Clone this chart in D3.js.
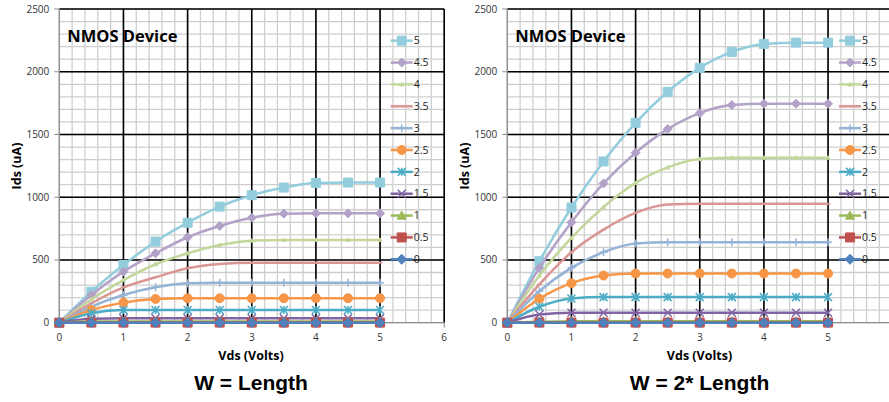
<!DOCTYPE html>
<html>
<head>
<meta charset="utf-8">
<script src="https://cdn.jsdelivr.net/npm/d3@7"></script>
<style>
  body { margin: 0; background: #fff; }
  svg { display: block; }
</style>
</head>
<body>
<div id="chart"></div>
<script>
// drain-source voltage points and gate-voltage series (legend order, top first)
const vds = [0, 0.5, 1, 1.5, 2, 2.5, 3, 3.5, 4, 4.5, 5];
const vgs = ['5', '4.5', '4', '3.5', '3', '2.5', '2', '1.5', '1', '0.5', '0'];
const xTicks = [0, 1, 2, 3, 4, 5, 6];
const yTicks = [0, 500, 1000, 1500, 2000, 2500];

// Ids (uA), W = Length
const idsSingle = [
  [0, 247, 460, 646, 797, 925, 1016, 1077, 1114, 1117, 1117],
  [0, 221, 407, 553, 681, 771, 837, 869, 872, 872, 872],
  [0, 187, 340, 466, 553, 620, 654, 660, 660, 660, 660],
  [0, 155, 282, 362, 434, 468, 478, 478, 478, 478, 478],
  [0, 128, 221, 282, 314, 319, 319, 319, 319, 319, 319],
  [0, 101, 160, 189, 195, 195, 195, 195, 195, 195, 195],
  [0, 76, 101, 101, 101, 101, 101, 101, 101, 101, 101],
  [0, 32, 35, 35, 35, 35, 35, 35, 35, 35, 35],
  [0, 9, 10, 10, 10, 10, 10, 10, 10, 10, 10],
  [0, 1, 1, 1, 1, 1, 1, 1, 1, 1, 1],
  [0, 0, 0, 0, 0, 0, 0, 0, 0, 0, 0]
];

// Ids (uA), W = 2 * Length
const idsDouble = [
  [0, 490, 918, 1285, 1593, 1840, 2031, 2158, 2222, 2232, 2232],
  [0, 437, 800, 1110, 1355, 1543, 1670, 1734, 1745, 1745, 1745],
  [0, 376, 676, 922, 1114, 1238, 1305, 1315, 1315, 1315, 1315],
  [0, 305, 562, 742, 875, 941, 947, 947, 947, 947, 947],
  [0, 251, 437, 562, 631, 641, 641, 641, 641, 641, 641],
  [0, 191, 315, 376, 392, 392, 392, 392, 392, 392, 392],
  [0, 127, 193, 204, 204, 204, 204, 204, 204, 204, 204],
  [0, 65, 80, 80, 80, 80, 80, 80, 80, 80, 80],
  [0, 8, 12, 12, 12, 12, 12, 12, 12, 12, 12],
  [0, 1, 1, 1, 1, 1, 1, 1, 1, 1, 1],
  [0, 0, 0, 0, 0, 0, 0, 0, 0, 0, 0]
];

const colors = ['#93CDDD', '#B3A2C7', '#C3D69B', '#D99694', '#95B3D7', '#F79646',
                '#4BACC6', '#8064A2', '#9BBB59', '#C0504D', '#4F81BD'];
const markers = [
  { type: 'square', size: 9 }, { type: 'diamond', size: 9 }, { type: 'triangle', size: 4 },
  { type: 'dash', size: 5 }, { type: 'plus', size: 8 }, { type: 'circle', size: 9 },
  { type: 'asterisk', size: 8 }, { type: 'x', size: 8 }, { type: 'triangle', size: 9 },
  { type: 'square', size: 9 }, { type: 'diamond', size: 10 }
];

const svg = d3.select('#chart')
  .append('svg')
    .attr('width', 889)
    .attr('height', 402);

function markerPath(type, s) {
  const h = s / 2;
  switch (type) {
    case 'square':   return `M${-h},${-h}h${s}v${s}h${-s}Z`;
    case 'diamond':  return `M0,${-h}L${h},0L0,${h}L${-h},0Z`;
    case 'triangle': return `M0,${-h}L${h},${h * 0.8}L${-h},${h * 0.8}Z`;
    case 'circle':   return `M${-h},0A${h},${h} 0 1,0 ${h},0A${h},${h} 0 1,0 ${-h},0Z`;
    case 'x':        return `M${-h},${-h}L${h},${h}M${-h},${h}L${h},${-h}`;
    case 'plus':     return `M${-h},0H${h}M0,${-h}V${h}`;
    case 'asterisk': return `M${-h},${-h}L${h},${h}M${-h},${h}L${h},${-h}M0,${-h}V${h}`;
    case 'dash':     return `M${-h},0H${h}`;
  }
}
const isStroke = t => ['x', 'plus', 'asterisk', 'dash'].includes(t);

function drawMarker(g, m, color, cx, cy) {
  const p = g.append('path')
      .attr('transform', `translate(${cx},${cy})`)
      .attr('d', markerPath(m.type, m.size));
  if (isStroke(m.type)) {
    p.attr('fill', 'none').attr('stroke', color).attr('stroke-width', 1.5);
  } else {
    p.attr('fill', color).attr('stroke', color).attr('stroke-width', 1);
  }
}

function drawChart(opt) {
  const g = svg.append('g');
  const x = d3.scaleLinear().domain([0, 6]).range([opt.x0, opt.x0 + 6 * 64.15]);
  const y = d3.scaleLinear().domain([0, 2500]).range([322.7, 9]);

  // minor grid
  g.append('g')
    .selectAll('line.vx')
    .data(x.ticks(30))
    .join('line')
      .attr('x1', d => x(d)).attr('x2', d => x(d))
      .attr('y1', y(0)).attr('y2', y(2500))
      .attr('stroke', '#cfcfcf').attr('stroke-width', 1.3);
  g.append('g')
    .selectAll('line.hy')
    .data(y.ticks(25))
    .join('line')
      .attr('x1', x(0)).attr('x2', x(6))
      .attr('y1', d => y(d)).attr('y2', d => y(d))
      .attr('stroke', '#cfcfcf').attr('stroke-width', 1.3);

  // major grid
  g.append('g')
    .selectAll('line')
    .data(xTicks.filter(d => d > 0))
    .join('line')
      .attr('x1', d => x(d)).attr('x2', d => x(d))
      .attr('y1', y(0)).attr('y2', y(2500))
      .attr('stroke', '#000').attr('stroke-width', 1.6);
  g.append('g')
    .selectAll('line')
    .data(yTicks.filter(d => d > 0))
    .join('line')
      .attr('x1', x(0)).attr('x2', x(6))
      .attr('y1', d => y(d)).attr('y2', d => y(d))
      .attr('stroke', '#000').attr('stroke-width', 1.6);

  // axes
  g.append('line')
      .attr('x1', x(0)).attr('x2', x(0)).attr('y1', y(0)).attr('y2', y(2500))
      .attr('stroke', '#8c8c8c').attr('stroke-width', 1.3);
  g.append('line')
      .attr('x1', x(0)).attr('x2', x(6)).attr('y1', y(0)).attr('y2', y(0))
      .attr('stroke', '#8c8c8c').attr('stroke-width', 1.3);

  g.append('g')
    .selectAll('line')
    .data(yTicks)
    .join('line')
      .attr('x1', x(0) - 5).attr('x2', x(0))
      .attr('y1', d => y(d)).attr('y2', d => y(d))
      .attr('stroke', '#8c8c8c');
  g.append('g')
    .selectAll('line')
    .data(xTicks)
    .join('line')
      .attr('x1', d => x(d)).attr('x2', d => x(d))
      .attr('y1', y(0)).attr('y2', y(0) + 5)
      .attr('stroke', '#8c8c8c');

  g.append('g')
    .selectAll('text')
    .data(yTicks)
    .join('text')
      .attr('x', x(0) - 10)
      .attr('y', d => y(d))
      .attr('dy', '0.35em')
      .attr('text-anchor', 'end')
      .attr('font-family', 'Open Sans')
      .attr('font-size', '10px')
      .attr('fill', '#333')
      .text(d => d);
  g.append('g')
    .selectAll('text')
    .data(opt.xLabels)
    .join('text')
      .attr('x', d => x(d))
      .attr('y', 337)
      .attr('dy', '0.35em')
      .attr('text-anchor', 'middle')
      .attr('font-family', 'Open Sans')
      .attr('font-size', '10px')
      .attr('fill', '#333')
      .text(d => d);

  // series
  const line = d3.line()
      .x((d, i) => x(vds[i]))
      .y(d => y(d))
      .curve(d3.curveMonotoneX);

  opt.data.forEach((vals, s) => {
    g.append('path')
        .attr('d', line(vals))
        .attr('fill', 'none')
        .attr('stroke', colors[s])
        .attr('stroke-width', 2.5);
    const mg = g.append('g');
    vals.forEach((v, i) => drawMarker(mg, markers[s], colors[s], x(vds[i]), y(v)));
  });

  // legend
  const lg = g.append('g');
  vgs.forEach((name, i) => {
    const ly = 40.7 + i * 21.86;
    lg.append('line')
        .attr('x1', opt.legendX).attr('x2', opt.legendX + 22)
        .attr('y1', ly).attr('y2', ly)
        .attr('stroke', colors[i]).attr('stroke-width', 2.5);
    drawMarker(lg, markers[i], colors[i], opt.legendX + 11, ly);
    lg.append('text')
        .attr('x', opt.legendX + 23)
        .attr('y', ly)
        .attr('dy', '0.35em')
        .attr('font-family', 'Open Sans')
        .attr('font-size', '10.5px')
        .attr('fill', '#222')
        .text(name);
  });

  // texts
  g.append('text')
      .attr('x', x(0) + 8)
      .attr('y', 42.3)
      .attr('font-family', 'Open Sans')
      .attr('font-weight', 'bold')
      .attr('font-size', '16.5px')
      .attr('fill', '#000')
      .text('NMOS Device');

  g.append('text')
      .attr('transform', `translate(${opt.yLabelX},166) rotate(-90)`)
      .attr('text-anchor', 'middle')
      .attr('dy', '0.35em')
      .attr('font-family', 'Open Sans')
      .attr('font-weight', 'bold')
      .attr('font-size', '12.5px')
      .text('Ids (uA)');

  g.append('text')
      .attr('x', opt.captionX)
      .attr('y', 360)
      .attr('text-anchor', 'middle')
      .attr('font-family', 'Open Sans')
      .attr('font-weight', 'bold')
      .attr('font-size', '12.5px')
      .text('Vds (Volts)');

  g.append('text')
      .attr('x', opt.captionX)
      .attr('y', 390)
      .attr('text-anchor', 'middle')
      .attr('font-family', 'Liberation Sans, Arial')
      .attr('font-weight', 'bold')
      .attr('font-size', '21px')
      .text(opt.caption);
}

drawChart({
  x0: 59.3, data: idsSingle, legendX: 390.7, yLabelX: 17, captionX: 251,
  xLabels: xTicks, caption: 'W = Length'
});
drawChart({
  x0: 507.3, data: idsDouble, legendX: 839, yLabelX: 465, captionX: 699.5,
  xLabels: xTicks.slice(0, 6), caption: 'W = 2* Length'
});
</script>
</body>
</html>
